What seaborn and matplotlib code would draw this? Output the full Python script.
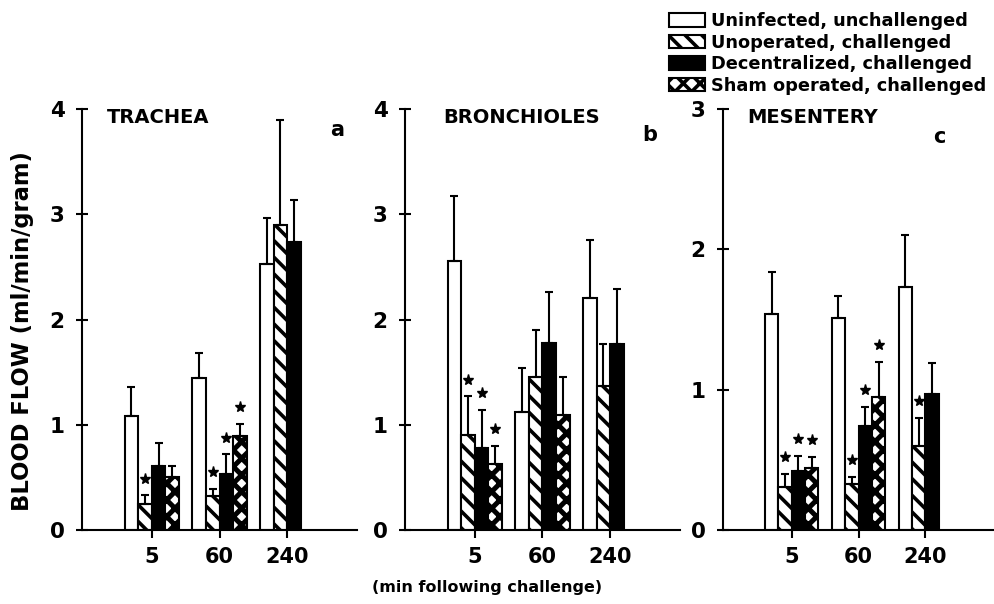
import numpy as np
import pandas as pd
import matplotlib
matplotlib.use("Agg")
import matplotlib.pyplot as plt
import matplotlib.patches as mpatches
import matplotlib.transforms as mtransforms
import seaborn as sns

# Categories
times = ["5", "60", "240"]
groups = ["Uninfected, unchallenged", "Unoperated, challenged",
          "Decentralized, challenged", "Sham operated, challenged"]

# Mean blood flow (rows = groups, cols = times)
trachea_mean = [[1.08, 1.44, 2.53],
                [0.25, 0.32, 2.90],
                [0.61, 0.53, 2.74],
                [0.50, 0.89, np.nan]]
trachea_err = [[0.28, 0.24, 0.43],
               [0.08, 0.07, 1.00],
               [0.22, 0.19, 0.40],
               [0.11, 0.12, np.nan]]
trachea_star = [[0, 0, 0], [1, 1, 0], [0, 1, 0], [0, 1, 0]]

bronch_mean = [[2.56, 1.12, 2.20],
               [0.90, 1.45, 1.37],
               [0.78, 1.78, 1.77],
               [0.63, 1.09, np.nan]]
bronch_err = [[0.61, 0.42, 0.56],
              [0.37, 0.45, 0.40],
              [0.36, 0.48, 0.52],
              [0.17, 0.36, np.nan]]
bronch_star = [[0, 0, 0], [1, 0, 0], [1, 0, 0], [1, 0, 0]]

mesent_mean = [[1.54, 1.51, 1.73],
               [0.31, 0.33, 0.60],
               [0.42, 0.74, 0.97],
               [0.44, 0.95, np.nan]]
mesent_err = [[0.30, 0.16, 0.37],
              [0.09, 0.05, 0.20],
              [0.11, 0.14, 0.22],
              [0.08, 0.25, np.nan]]
mesent_star = [[0, 0, 0], [1, 1, 1], [1, 1, 0], [1, 1, 0]]

panel_titles = ["TRACHEA", "BRONCHIOLES", "MESENTERY"]
panel_letters = ["a", "b", "c"]
panel_ymax = [4, 4, 3]

face_colors = ["white", "white", "black", "white"]
hatches = [None, "\\\\", None, "xx"]
hatch_lw = [None, 2.6, None, 3.6]

sns.set_style("ticks")
plt.rcParams["font.family"] = ["DejaVu Sans"]
plt.rcParams["font.weight"] = "bold"
for key in ["text.color", "axes.labelcolor", "xtick.color", "ytick.color",
            "axes.edgecolor", "hatch.color"]:
    plt.rcParams[key] = "black"
plt.rcParams["hatch.linewidth"] = 2.6


def style_patch(p, gi):
    if hatches[gi]:
        p.set_hatch(hatches[gi])
        if hasattr(p, "set_hatch_linewidth"):
            p.set_hatch_linewidth(hatch_lw[gi])


fig = plt.figure(figsize=(9.94, 6.04), dpi=100)
axes = [fig.add_axes([0.0825, 0.1225, 0.2767, 0.697]),
        fig.add_axes([0.4074, 0.1225, 0.2767, 0.697]),
        fig.add_axes([0.7274, 0.1225, 0.2726, 0.697])]

panels = [(trachea_mean, trachea_err, trachea_star),
          (bronch_mean, bronch_err, bronch_star),
          (mesent_mean, mesent_err, mesent_star)]

for k, (ax, (means, errs, stars)) in enumerate(zip(axes, panels)):
    df = pd.DataFrame(means, index=groups, columns=times)
    df = df.reset_index().melt(id_vars="index", var_name="time", value_name="flow")
    df = df.rename(columns={"index": "group"}).dropna()

    sns.barplot(data=df, x="time", y="flow", hue="group", order=times,
                hue_order=groups, palette=dict(zip(groups, face_colors)),
                saturation=1, edgecolor="black", linewidth=1.5,
                errorbar=None, width=0.8, legend=False, ax=ax)

    bar_conts = list(ax.containers)
    star_tr = mtransforms.offset_copy(ax.transData, fig=fig, y=12, units="points")
    for gi, cont in enumerate(bar_conts):
        for bar in cont:
            h = bar.get_height()
            if np.isnan(h):
                continue
            style_patch(bar, gi)
            xc = bar.get_x() + bar.get_width() / 2
            ti = int(round(xc))
            m = means[gi][ti]
            e = errs[gi][ti]
            ax.errorbar(xc, m, yerr=[[0], [e]], fmt="none", ecolor="black",
                        elinewidth=1.5, capsize=3, capthick=1.5, zorder=3)
            if stars[gi][ti]:
                ax.plot(xc, m + e, marker="*", ms=8, color="black",
                        transform=star_tr, zorder=4)

    ax.set_xlim(-1.03, 3.03)
    ax.set_ylim(0, panel_ymax[k])
    ax.set_yticks(range(panel_ymax[k] + 1))
    ax.set_xlabel("")
    ax.set_ylabel("")
    ax.tick_params(axis="y", direction="inout", length=9, width=1.5,
                   labelsize=15.5, pad=8)
    ax.tick_params(axis="x", direction="out", length=6, width=1.5,
                   labelsize=15, pad=6)
    for lab in ax.get_xticklabels() + ax.get_yticklabels():
        lab.set_fontweight("bold")
    sns.despine(ax=ax)
    for sp in ["left", "bottom"]:
        ax.spines[sp].set_linewidth(1.5)
    ax.text(0.09 if k != 1 else 0.138, 0.979, panel_titles[k], transform=ax.transAxes,
            fontsize=14, fontweight="bold", va="center", ha="left")

letter_pos = [(0.927, 0.95), (0.89, 0.938), (0.80, 0.933)]
for ax, letter, (lx, ly) in zip(axes, panel_letters, letter_pos):
    ax.text(lx, ly, letter, transform=ax.transAxes, fontsize=15,
            fontweight="bold", va="center", ha="center")

axes[0].set_ylabel("BLOOD FLOW (ml/min/gram)", fontsize=16.3, fontweight="bold")
axes[0].yaxis.set_label_coords(-0.175, 0.473)
fig.text(0.49, 0.027, "(min following challenge)", fontsize=11.5,
         fontweight="bold", ha="center", va="center")

handles = []
for gi, c in enumerate(face_colors):
    p = mpatches.Patch(facecolor=c, edgecolor="black", linewidth=1.5)
    style_patch(p, gi)
    handles.append(p)
fig.legend(handles, groups, loc="upper right", bbox_to_anchor=(0.992, 0.98),
           frameon=False, borderpad=0, borderaxespad=0, labelspacing=0.2,
           handlelength=2.0, handleheight=0.8, handletextpad=0.35,
           prop={"size": 12.8, "weight": "bold"})

fig.savefig("out.png", dpi=100)
